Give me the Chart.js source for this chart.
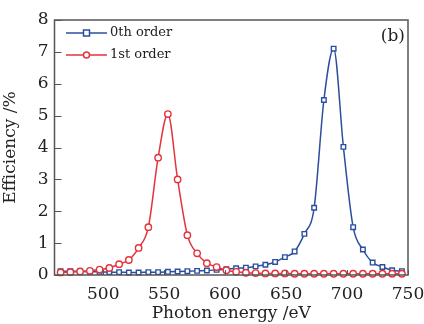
<!DOCTYPE html>
<html>
<head>
<meta charset="utf-8">
<script src="https://cdn.jsdelivr.net/npm/chart.js@4"></script>
<style>
  html, body { margin: 0; padding: 0; background: #fff; }
  #wrap { width: 424px; height: 324px; }
</style>
</head>
<body>
<div id="wrap"><canvas id="effChart" width="424" height="324"></canvas></div>
<script>
// photon energy (eV) of each sample
const energies = [465, 473, 481, 489, 497, 505, 513, 521, 529, 537, 545, 553, 561, 569, 577, 585, 593, 601,
                  609, 617, 625, 633, 641, 649, 657, 665, 673, 681, 689, 697, 705, 713, 721, 729, 737, 745];
// efficiency (%) of 0th order
const order0 = [0.12, 0.12, 0.11, 0.10, 0.10, 0.09, 0.09, 0.08, 0.08, 0.09, 0.09, 0.10, 0.11, 0.12, 0.13, 0.14, 0.16, 0.18,
                0.21, 0.23, 0.27, 0.32, 0.41, 0.56, 0.74, 1.29, 2.11, 5.49, 7.10, 4.02, 1.50, 0.80, 0.39, 0.25, 0.15, 0.12];
// efficiency (%) of 1st order
const order1 = [0.08, 0.09, 0.11, 0.13, 0.17, 0.22, 0.34, 0.47, 0.85, 1.50, 3.68, 5.05, 3.00, 1.25, 0.68, 0.37, 0.25, 0.15,
                0.10, 0.07, 0.06, 0.05, 0.05, 0.05, 0.04, 0.04, 0.04, 0.04, 0.04, 0.04, 0.04, 0.04, 0.04, 0.04, 0.04, 0.04];
const seriesNames = ['0th order', '1st order'];
const xTicks = [500, 550, 600, 650, 700, 750];
const yTicks = [0, 1, 2, 3, 4, 5, 6, 7, 8];
const panelLabel = '(b)';

const BLUE = '#2b4f9e';
const RED = '#e5323c';
const FRAME = '#555555';
const SERIF = '"DejaVu Serif", "Liberation Serif", serif';

const toPoints = (ys) => ys.map((y, i) => ({ x: energies[i], y: y }));

// frame, inward ticks, legend with line + marker, panel label
const decorPlugin = {
    id: 'decor',
    afterDraw(chart) {
        const ctx = chart.ctx;
        const area = chart.chartArea;
        const xs = chart.scales.x;
        const ys = chart.scales.y;
        ctx.save();
        ctx.strokeStyle = FRAME;
        ctx.lineWidth = 1.5;
        ctx.strokeRect(area.left, area.top, area.right - area.left, area.bottom - area.top);
        ctx.lineWidth = 1;
        ctx.beginPath();
        xTicks.forEach(v => {
            const px = Math.round(xs.getPixelForValue(v)) + 0.5;
            ctx.moveTo(px, area.bottom);
            ctx.lineTo(px, area.bottom - 5);
        });
        yTicks.forEach(v => {
            const py = Math.round(ys.getPixelForValue(v)) + 0.5;
            ctx.moveTo(area.left, py);
            ctx.lineTo(area.left + 7, py);
        });
        ctx.stroke();

        // legend
        chart.data.datasets.forEach((ds, i) => {
            const y = area.top + 13 + i * 22;
            ctx.strokeStyle = ds.borderColor;
            ctx.lineWidth = 1.5;
            ctx.beginPath();
            ctx.moveTo(66, y);
            ctx.lineTo(107, y);
            ctx.stroke();
            ctx.fillStyle = '#fff';
            ctx.beginPath();
            if (ds.pointStyle === 'rect') {
                ctx.rect(83.5, y - 3, 6, 6);
            } else {
                ctx.arc(86.5, y, 3, 0, Math.PI * 2);
            }
            ctx.fill();
            ctx.stroke();
            ctx.fillStyle = '#222';
            ctx.font = '13px ' + SERIF;
            ctx.textBaseline = 'middle';
            ctx.textAlign = 'left';
            ctx.fillText(ds.label, 110, y);
        });

        ctx.fillStyle = '#222';
        ctx.font = '17px ' + SERIF;
        ctx.textAlign = 'right';
        ctx.textBaseline = 'middle';
        ctx.fillText(panelLabel, area.right - 3, area.top + 17);
        ctx.restore();
    }
};

const ctx = document.getElementById('effChart').getContext('2d');
new Chart(ctx, {
    type: 'line',
    data: {
        datasets: [{
            label: seriesNames[0],
            data: toPoints(order0),
            borderColor: BLUE,
            backgroundColor: '#fff',
            borderWidth: 1.5,
            pointStyle: 'rect',
            pointRadius: 3.2,
            pointBorderWidth: 1.4,
            cubicInterpolationMode: 'monotone',
            clip: false,
            order: 2
        }, {
            label: seriesNames[1],
            data: toPoints(order1),
            borderColor: RED,
            backgroundColor: '#fff',
            borderWidth: 1.5,
            pointStyle: 'circle',
            pointRadius: 3.2,
            pointBorderWidth: 1.4,
            cubicInterpolationMode: 'monotone',
            clip: false,
            order: 1
        }]
    },
    options: {
        responsive: false,
        animation: false,
        layout: { padding: { top: 20, right: 16, left: 0, bottom: 0 } },
        plugins: {
            legend: { display: false },
            tooltip: { enabled: false }
        },
        scales: {
            x: {
                type: 'linear',
                min: 460,
                max: 750,
                afterBuildTicks: (axis) => { axis.ticks = xTicks.map(v => ({ value: v })); },
                afterFit: (axis) => { axis.height = 49; axis.paddingLeft = 0; axis.paddingRight = 0; },
                grid: { display: false, drawTicks: false },
                border: { display: false },
                ticks: { color: '#222', font: { family: SERIF, size: 17 }, padding: 9, maxRotation: 0 },
                title: { display: true, text: 'Photon energy /eV', color: '#222', font: { family: SERIF, size: 17 }, padding: { top: 0, bottom: 0 } }
            },
            y: {
                min: 0,
                max: 8,
                afterBuildTicks: (axis) => { axis.ticks = yTicks.map(v => ({ value: v })); },
                afterFit: (axis) => { axis.width = 54.5; axis.paddingTop = 0; axis.paddingBottom = 0; },
                grid: { display: false, drawTicks: false },
                border: { display: false },
                ticks: { color: '#222', font: { family: SERIF, size: 17 }, padding: 6 },
                title: { display: true, text: 'Efficiency /%', color: '#222', font: { family: SERIF, size: 17 }, padding: { top: 0, bottom: 4 } }
            }
        }
    },
    plugins: [decorPlugin]
});
</script>
</body>
</html>
